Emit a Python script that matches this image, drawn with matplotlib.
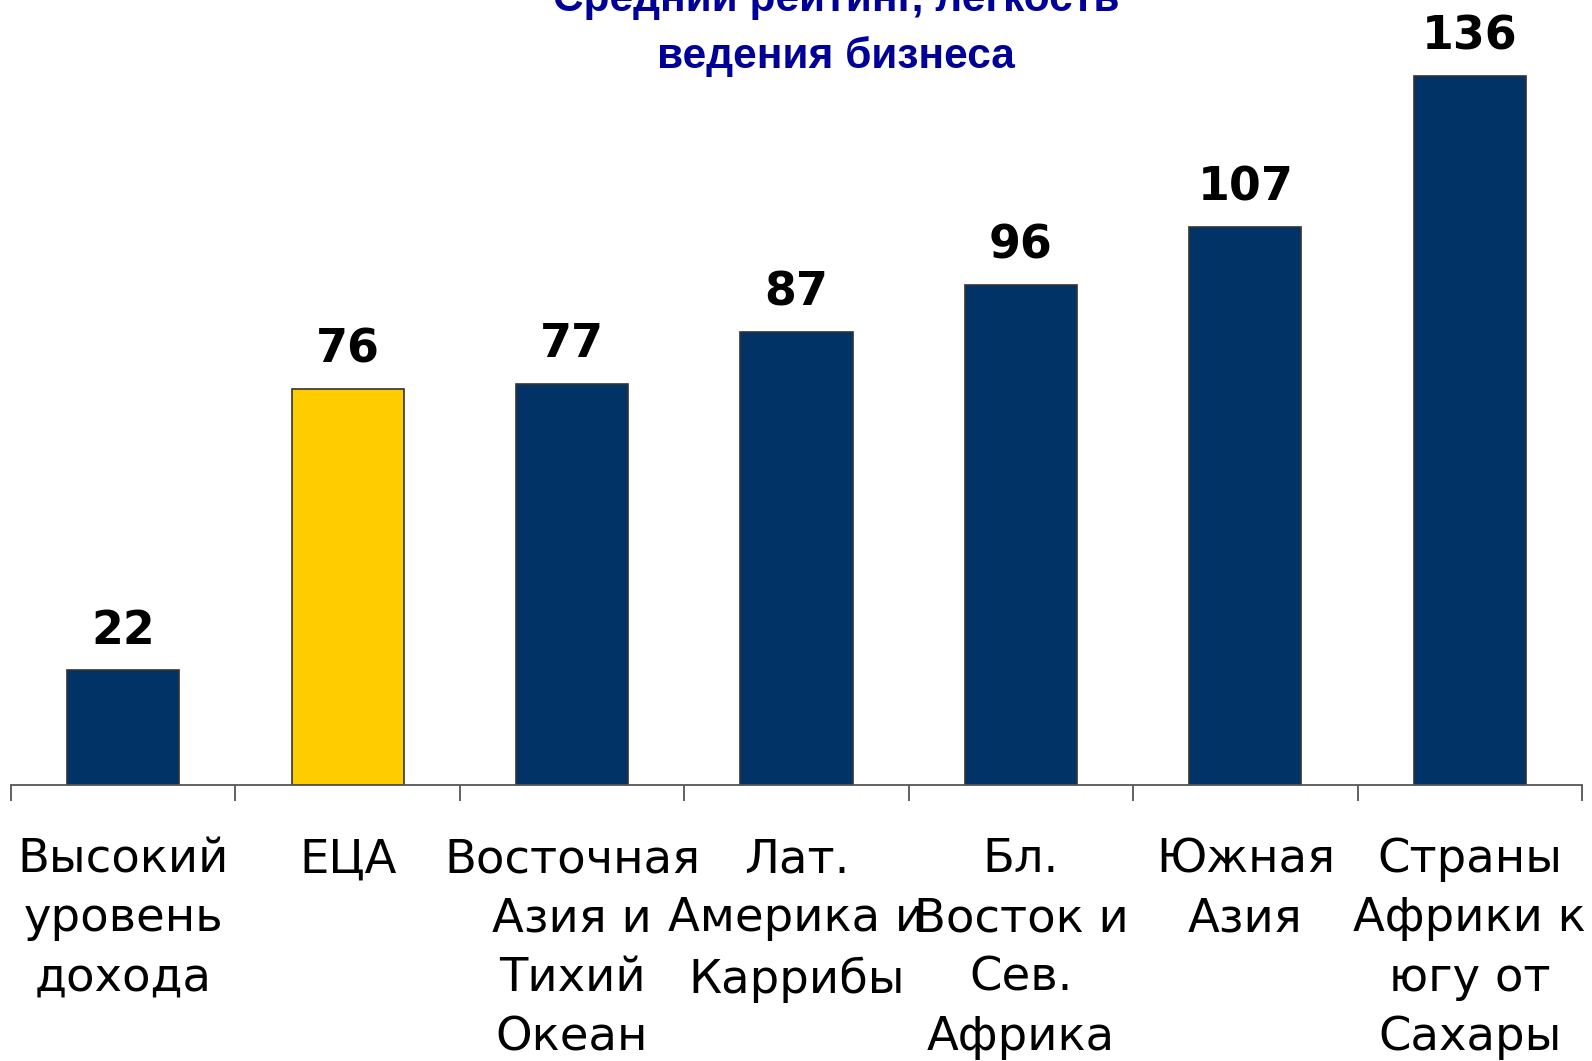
import matplotlib
matplotlib.use("Agg")
import matplotlib.pyplot as plt
import numpy as np

# data
regions = ["Высокий\nуровень\nдохода", "ЕЦА", "Восточная\nАзия и\nТихий\nОкеан",
           "Лат.\nАмерика и\nКаррибы", "Бл.\nВосток и\nСев.\nАфрика",
           "Южная\nАзия", "Страны\nАфрики к\nюгу от\nСахары"]
ranks = [22, 76, 77, 87, 96, 107, 136]
highlight = "ЕЦА"

navy = "#023366"
yellow = "#FFCC00"

fig = plt.figure(figsize=(15.92, 10.61), dpi=100)
ax = fig.add_axes([11 / 1592, 1 - 785 / 1061, 1571 / 1592, 785 / 1061])

x = np.arange(len(ranks))
colors = [yellow if r == highlight else navy for r in regions]
bars = ax.bar(x, ranks, width=0.5, color=colors, edgecolor="#333333", linewidth=1.2)

for b, v in zip(bars, ranks):
    ax.annotate(str(v), (b.get_x() + b.get_width() / 2, v), xytext=(0, 28),
                textcoords="offset points", ha="center", va="center",
                fontsize=33, fontweight="bold", family="DejaVu Sans")

ax.set_xlim(-0.5, len(ranks) - 0.5)
ax.set_ylim(0, 150.6)

ax.set_xticks(x)
ax.set_xticklabels(regions, fontsize=33.5, family="DejaVu Sans", linespacing=1.41)
ax.tick_params(axis="x", which="major", length=0, pad=37.5)
ax.set_xticks(np.arange(len(ranks) + 1) - 0.5, minor=True)
ax.tick_params(axis="x", which="minor", length=11.5, width=1.3, color="#555555", direction="out")
ax.set_yticks([])

for side in ["top", "right", "left"]:
    ax.spines[side].set_visible(False)
ax.spines["bottom"].set_color("#555555")
ax.spines["bottom"].set_linewidth(1.3)

fig.text(836 / 1592, 0.974, "Средний рейтинг, легкость\nведения бизнеса", ha="center", va="center",
         fontsize=30.5, fontweight="bold", color="#000099", family="Liberation Sans", linespacing=1.5)

fig.savefig("out.png", dpi=100)
